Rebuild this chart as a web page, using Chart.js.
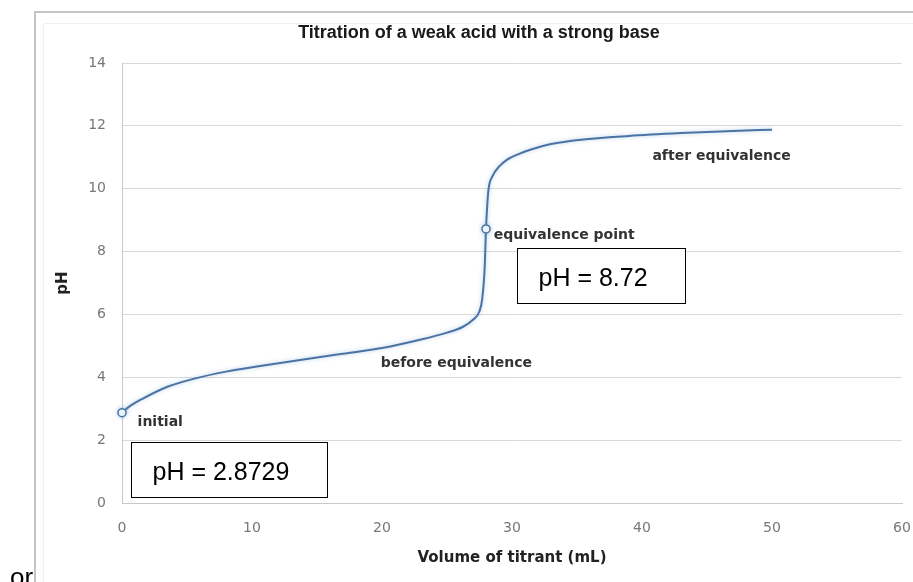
<!DOCTYPE html>
<html>
<head>
<meta charset="utf-8">
<title>Titration of a weak acid with a strong base</title>
<script src="https://cdn.jsdelivr.net/npm/chart.js@4.4.1/dist/chart.umd.min.js"></script>
<style>
  html, body { margin: 0; padding: 0; background: #fff; }
  canvas { display: block; }
</style>
</head>
<body>
<canvas id="titrationChart" width="913" height="582"></canvas>
<script>
// Volume of base added (mL) and the pH of the solution
const volumes = [0, 0.5, 1.5, 3.5, 5.5, 8, 10.5, 13.7, 17, 20, 23, 25, 26.2, 27, 27.5, 27.7, 27.9, 28, 28.1, 28.2, 28.5, 29, 29.6, 30.5, 31.4, 33, 35.3, 39, 43, 47, 50];
const phValues = [2.8729, 3.05, 3.3, 3.7, 3.95, 4.18, 4.35, 4.55, 4.75, 4.93, 5.2, 5.42, 5.6, 5.83, 6.1, 6.47, 7.5, 8.72, 9.5, 10.0, 10.4, 10.7, 10.92, 11.1, 11.24, 11.42, 11.56, 11.68, 11.77, 11.84, 11.88];

// points drawn with a hollow marker (initial, equivalence point)
const markedVolumes = [0, 28];

// axis ticks
const xTicks = [0, 10, 20, 30, 40, 50, 60];
const yTicks = [0, 2, 4, 6, 8, 10, 12, 14];

const LINE_COLOR = '#4b73a3';
const LABEL_FONT = 'bold 14px "DejaVu Sans"';

// text next to the curve, anchored in data units (left edge, middle)
const callouts = [
  { text: 'initial', x: 1.2, y: 2.55 },
  { text: 'before equivalence', x: 19.9, y: 4.44 },
  { text: 'equivalence point', x: 28.6, y: 8.53 },
  { text: 'after equivalence', x: 40.8, y: 11.04 }
];

// boxed pH values
const eqIndex = volumes.indexOf(28);
const valueBoxes = [
  { text: 'pH = ' + phValues[0], x0: 0.69, x1: 15.8, y0: 1.93, y1: 0.2 },
  { text: 'pH = ' + phValues[eqIndex], x0: 30.38, x1: 43.33, y0: 8.1, y1: 6.37 }
];

const points = volumes.map((v, i) => ({ x: v, y: phValues[i] }));

// frame, title and the stray word under the picture
const backdrop = {
  id: 'backdrop',
  beforeDraw(chart) {
    const ctx = chart.ctx;
    ctx.save();
    ctx.fillStyle = '#fff';
    ctx.fillRect(0, 0, chart.width, chart.height);

    ctx.strokeStyle = '#f0f0f0';
    ctx.lineWidth = 1;
    ctx.strokeRect(43.5, 23.5, chart.width, chart.height);
    ctx.strokeStyle = '#c4c4c4';
    ctx.lineWidth = 2;
    ctx.beginPath();
    ctx.moveTo(35, chart.height);
    ctx.lineTo(35, 12);
    ctx.lineTo(chart.width, 12);
    ctx.stroke();

    ctx.fillStyle = '#1a1a1a';
    ctx.font = 'bold 18px "Liberation Sans"';
    ctx.textAlign = 'center';
    ctx.textBaseline = 'middle';
    ctx.fillText('Titration of a weak acid with a strong base', 479, 33);

    ctx.fillStyle = '#000';
    ctx.font = '26px "Liberation Sans"';
    ctx.textAlign = 'left';
    ctx.textBaseline = 'alphabetic';
    ctx.fillText('or', 10, 586);
    ctx.restore();
  },
  beforeDatasetDraw(chart) {
    const ctx = chart.ctx;
    ctx.save();
    ctx.shadowColor = 'rgba(120, 165, 215, 0.55)';
    ctx.shadowBlur = 4;
  },
  afterDatasetDraw(chart) {
    chart.ctx.restore();
  },
  afterDatasetsDraw(chart) {
    const ctx = chart.ctx;
    const xs = chart.scales.x;
    const ys = chart.scales.y;
    ctx.save();

    ctx.font = LABEL_FONT;
    ctx.fillStyle = '#333';
    ctx.textAlign = 'left';
    ctx.textBaseline = 'middle';
    callouts.forEach(c => {
      ctx.fillText(c.text, xs.getPixelForValue(c.x), ys.getPixelForValue(c.y));
    });

    valueBoxes.forEach(b => {
      const left = Math.round(xs.getPixelForValue(b.x0)) + 0.5;
      const right = Math.round(xs.getPixelForValue(b.x1)) + 0.5;
      const top = Math.round(ys.getPixelForValue(b.y0)) + 0.5;
      const bottom = Math.round(ys.getPixelForValue(b.y1)) + 0.5;
      ctx.fillStyle = '#fff';
      ctx.fillRect(left, top, right - left, bottom - top);
      ctx.strokeStyle = '#000';
      ctx.lineWidth = 1;
      ctx.strokeRect(left, top, right - left, bottom - top);
      ctx.fillStyle = '#000';
      ctx.font = '25px "Liberation Sans"';
      ctx.fillText(b.text, left + 21, (top + bottom) / 2 + 3);
    });
    ctx.restore();
  }
};

new Chart(document.getElementById('titrationChart'), {
  type: 'scatter',
  data: {
    datasets: [{
      label: 'pH',
      data: points,
      showLine: true,
      clip: false,
      borderColor: LINE_COLOR,
      borderWidth: 2,
      cubicInterpolationMode: 'monotone',
      pointRadius: ctx => markedVolumes.includes(volumes[ctx.dataIndex]) ? 4 : 0,
      pointBackgroundColor: '#fff',
      pointBorderColor: LINE_COLOR,
      pointBorderWidth: 1.5,
      pointHoverRadius: 0
    }]
  },
  options: {
    responsive: false,
    animation: false,
    devicePixelRatio: 1,
    layout: { padding: { top: 63, left: 0, right: 11, bottom: 0 } },
    plugins: {
      legend: { display: false },
      tooltip: { enabled: false }
    },
    scales: {
      x: {
        type: 'linear',
        min: 0,
        max: 60,
        afterBuildTicks: s => { s.ticks = xTicks.map(v => ({ value: v })); },
        grid: { display: false, drawTicks: false },
        border: { color: '#c8c8c8', width: 1 },
        ticks: {
          padding: 17,
          color: '#777',
          maxRotation: 0,
          font: { family: 'DejaVu Sans', size: 14 }
        },
        title: {
          display: true,
          text: 'Volume of titrant (mL)',
          color: '#222',
          font: { family: 'DejaVu Sans', size: 15, weight: 'bold' },
          padding: { top: 0, bottom: 15 }
        },
        afterFit: s => { s.height = 79; s.paddingLeft = 0; s.paddingRight = 0; }
      },
      y: {
        min: 0,
        max: 14,
        afterBuildTicks: s => { s.ticks = yTicks.map(v => ({ value: v })); },
        grid: { color: '#d9d9d9', lineWidth: 1, drawTicks: false },
        border: { color: '#c8c8c8', width: 1 },
        ticks: {
          padding: 16,
          color: '#777',
          font: { family: 'DejaVu Sans', size: 14 }
        },
        title: {
          display: true,
          text: 'pH',
          color: '#222',
          font: { family: 'DejaVu Sans', size: 15, weight: 'bold' },
          padding: { top: 54, bottom: 0 }
        },
        afterFit: s => { s.width = 122; s.paddingTop = 0; s.paddingBottom = 0; }
      }
    }
  },
  plugins: [backdrop]
});
</script>
</body>
</html>
